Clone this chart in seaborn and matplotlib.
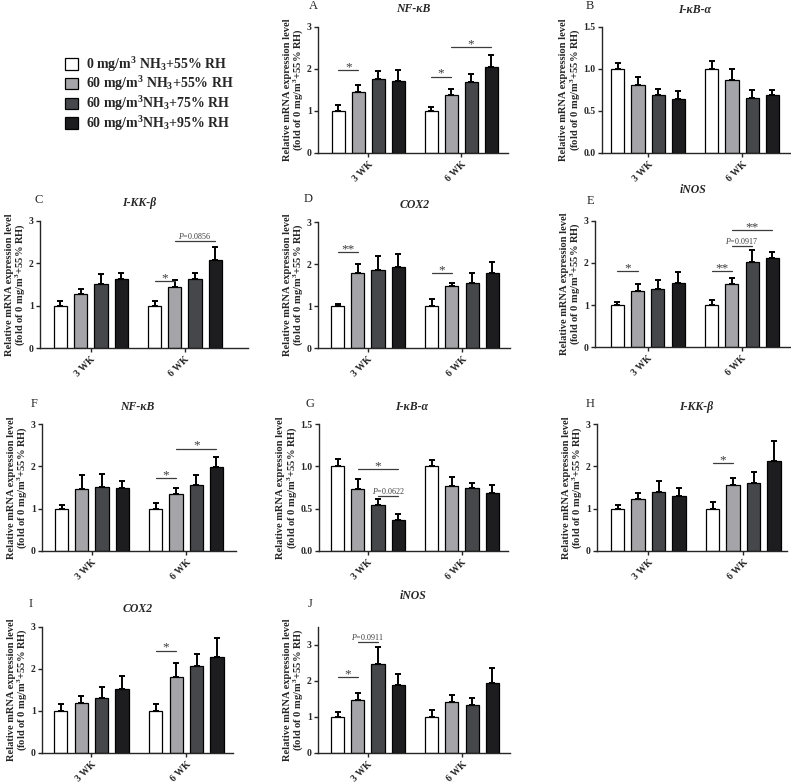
import numpy as np
import pandas as pd
import matplotlib
matplotlib.use("Agg")
import matplotlib.pyplot as plt
import seaborn as sns
from matplotlib.patches import Patch

# ---------------- data ----------------
weeks = ["3 WK", "6 WK"]
groups = ["0 mg/m$^3$ NH$_3$+55% RH", "60 mg/m$^3$ NH$_3$+55% RH",
          "60 mg/m$^3$NH$_3$+75% RH", "60 mg/m$^3$NH$_3$+95% RH"]
colors = ["#ffffff", "#a5a5a9", "#46474b", "#1d1d1f"]

panel_letters = ["A", "B", "C", "D", "E", "F", "G", "H", "I", "J"]
panel_genes = ["NF-κB", "I-κB-α", "I-KK-β", "COX2", "iNOS",
               "NF-κB", "I-κB-α", "I-KK-β", "COX2", "iNOS"]

# means: [3 WK x4 groups, 6 WK x4 groups]
mean_A = [1.00, 1.46, 1.76, 1.71, 1.00, 1.37, 1.68, 2.05]
err_A = [0.14, 0.17, 0.20, 0.26, 0.10, 0.15, 0.20, 0.29]
mean_B = [1.00, 0.81, 0.69, 0.64, 1.00, 0.87, 0.66, 0.69]
err_B = [0.07, 0.10, 0.07, 0.10, 0.10, 0.13, 0.09, 0.06]
mean_C = [1.00, 1.27, 1.52, 1.62, 1.00, 1.44, 1.62, 2.07]
err_C = [0.10, 0.13, 0.23, 0.16, 0.12, 0.17, 0.16, 0.32]
mean_D = [1.00, 1.78, 1.86, 1.94, 1.00, 1.47, 1.55, 1.78]
err_D = [0.05, 0.22, 0.34, 0.31, 0.16, 0.07, 0.23, 0.27]
mean_E = [1.00, 1.34, 1.38, 1.52, 1.00, 1.51, 2.03, 2.11]
err_E = [0.07, 0.16, 0.21, 0.26, 0.11, 0.14, 0.27, 0.16]
mean_F = [1.00, 1.47, 1.51, 1.50, 1.00, 1.35, 1.57, 1.98]
err_F = [0.09, 0.32, 0.30, 0.16, 0.13, 0.13, 0.22, 0.23]
mean_G = [1.00, 0.73, 0.54, 0.37, 1.00, 0.77, 0.74, 0.69]
err_G = [0.09, 0.125, 0.07, 0.07, 0.08, 0.10, 0.06, 0.09]
mean_H = [1.00, 1.24, 1.40, 1.30, 1.00, 1.56, 1.60, 2.13]
err_H = [0.09, 0.14, 0.25, 0.18, 0.16, 0.17, 0.27, 0.47]
mean_I = [1.00, 1.20, 1.30, 1.52, 1.00, 1.82, 2.07, 2.29]
err_I = [0.17, 0.16, 0.28, 0.32, 0.16, 0.32, 0.28, 0.45]
mean_J = [1.00, 1.46, 2.47, 1.89, 1.00, 1.41, 1.34, 1.94]
err_J = [0.14, 0.21, 0.47, 0.30, 0.19, 0.21, 0.20, 0.41]

means = [mean_A, mean_B, mean_C, mean_D, mean_E, mean_F, mean_G, mean_H, mean_I, mean_J]
errs = [err_A, err_B, err_C, err_D, err_E, err_F, err_G, err_H, err_I, err_J]

# significance: (week index, group a, group b, y, label)
sig_A = [(0, 0, 1, 1.97, "*"), (1, 0, 1, 1.82, "*"), (1, 1, 3, 2.53, "*")]
sig_B = []
sig_C = [(1, 0, 1, 1.58, "*"), (1, 1, 3, 2.52, "$\\mathit{P}$=0.0856")]
sig_D = [(0, 0, 1, 2.29, "**"), (1, 0, 1, 1.78, "*")]
sig_E = [(0, 0, 1, 1.80, "*"), (1, 0, 1, 1.81, "**"), (1, 1, 2, 2.41, "$\\mathit{P}$=0.0917"),
         (1, 1, 3, 2.78, "**")]
sig_F = [(1, 0, 1, 1.72, "*"), (1, 1, 3, 2.42, "*")]
sig_G = [(0, 1, 3, 0.97, "*"), (0, 2, 3, 0.65, "$\\mathit{P}$=0.0622")]
sig_H = [(1, 0, 1, 2.07, "*")]
sig_I = [(1, 0, 1, 2.44, "*")]
sig_J = [(0, 0, 1, 2.12, "*"), (0, 1, 2, 3.09, "$\\mathit{P}$=0.0911")]
sigs = [sig_A, sig_B, sig_C, sig_D, sig_E, sig_F, sig_G, sig_H, sig_I, sig_J]

yticks_3 = [0, 1, 2, 3]
ytick_labels_3 = ["0", "1", "2", "3"]
yticks_15 = [0.0, 0.5, 1.0, 1.5]
ytick_labels_15 = ["0.0", "0.5", "1.0", "1.5"]

ylabel = "Relative mRNA expression level\n(fold of 0 mg/m$^3$+55% RH)"

# ---------------- layout (pixels) ----------------
W, H = 791, 783
layout = [
    ((318, 27, 508, 153), (-0.54, 1.505), (0, 3), "3"),
    ((602, 27, 790, 153), (-0.49, 1.51), (0, 1.5), "15"),
    ((40, 221, 248, 348), (-0.54, 1.67), (0, 3), "3"),
    ((318, 222, 510, 348), (-0.53, 1.51), (0, 3), "3"),
    ((595, 221, 790, 347), (-0.56, 1.51), (0, 3), "3"),
    ((42, 424, 236, 551), (-0.53, 1.53), (0, 3), "3"),
    ((319, 424, 508, 551), (-0.52, 1.49), (0, 1.5), "15"),
    ((597, 424, 787, 551), (-0.54, 1.46), (0, 3), "3"),
    ((42, 627, 233, 753), (-0.52, 1.49), (0, 3), "3"),
    ((318, 627, 510, 753), (-0.53, 1.51), (0, 3.5), "3"),
]
letter_pos = [(313, 6), (590, 6), (39, 200), (308, 199), (590, 201),
              (34, 404), (310, 404), (590, 404), (31, 604), (310, 604)]
title_pos = [(413, 9), (695, 10), (139, 203), (415, 205), (693, 190),
             (137, 407), (412, 407), (696, 407), (138, 609), (413, 596)]

sns.set_style("ticks")
plt.rcParams["font.family"] = ["Liberation Serif", "DejaVu Serif"]
plt.rcParams["mathtext.fontset"] = "custom"
plt.rcParams["mathtext.default"] = "regular"
plt.rcParams["mathtext.rm"] = "Liberation Serif"
plt.rcParams["mathtext.it"] = "Liberation Serif:italic"
plt.rcParams["axes.linewidth"] = 1.0

fig = plt.figure(figsize=(W / 100, H / 100), dpi=100)

def fx(x):
    return x / W

def fy(y):
    return 1 - y / H

for i in range(10):
    (l, t, r, b), xlim, ylim, sc = layout[i]
    ax = fig.add_axes([fx(l), fy(b), (r - l) / W, (b - t) / H])
    df = pd.DataFrame({
        "week": [weeks[k // 4] for k in range(8)],
        "group": [groups[k % 4] for k in range(8)],
        "value": means[i],
    })
    sns.barplot(data=df, x="week", y="value", hue="group", order=weeks,
                hue_order=groups, palette=colors, saturation=1, width=0.86,
                gap=0.35, edgecolor="black", linewidth=0.9, errorbar=None,
                legend=False, ax=ax, zorder=2)
    bars = sorted([p for p in ax.patches], key=lambda p: p.get_x())
    xs = np.array([p.get_x() + p.get_width() / 2 for p in bars])
    hs = np.array([p.get_height() for p in bars])
    e = np.array(errs[i])
    ax.errorbar(xs, hs, yerr=[np.zeros_like(e), e], fmt="none", ecolor="black",
                elinewidth=1.4, capsize=2.2, capthick=1.4, zorder=3)
    for (w, a, bb, y, lab) in sigs[i]:
        x1 = xs[w * 4 + a]
        x2 = xs[w * 4 + bb]
        ax.plot([x1, x2], [y, y], color="#3c3c3c", lw=0.9, zorder=4, clip_on=False)
        if "P" in lab:
            ax.text((x1 + x2) / 2, y, lab, ha="center", va="bottom", fontsize=5.8,
                    color="#3c3c3c", zorder=4)
        else:
            ax.text((x1 + x2) / 2, y - 0.025 * (ylim[1] - ylim[0]), lab, ha="center",
                    va="bottom", fontsize=9.5, color="#3c3c3c", zorder=4)
    ax.set_xlim(*xlim)
    ax.set_ylim(*ylim)
    if sc == "3":
        ax.set_yticks(yticks_3)
        ax.set_yticklabels(ytick_labels_3)
    else:
        ax.set_yticks(yticks_15)
        ax.set_yticklabels(ytick_labels_15)
    ax.set_xticks([0, 1])
    ax.set_xticklabels(weeks, rotation=45, ha="right", rotation_mode="anchor")
    ax.tick_params(axis="both", length=3, width=1.0, labelsize=7, pad=1.5)
    for lbl in ax.get_xticklabels() + ax.get_yticklabels():
        lbl.set_fontweight("bold")
    ax.set_xlabel("")
    ax.set_ylabel(ylabel, fontsize=7.6, fontweight="bold", labelpad=1, linespacing=1.0)
    sns.despine(ax=ax)
    fig.text(fx(letter_pos[i][0]), fy(letter_pos[i][1]), panel_letters[i],
             ha="center", va="center", fontsize=9)
    fig.text(fx(title_pos[i][0]), fy(title_pos[i][1]), panel_genes[i],
             ha="center", va="center", fontsize=8.5, fontweight="bold", style="italic")

handles = [Patch(facecolor=c, edgecolor="black", linewidth=0.9) for c in colors]
fig.legend(handles, groups, loc="upper left", bbox_to_anchor=(fx(65), fy(55)),
           frameon=False, prop={"weight": "bold", "size": 10},
           handlelength=0.9, handleheight=0.9, handletextpad=0.6, labelspacing=0.05,
           borderaxespad=0, borderpad=0)

fig.savefig("out.png", dpi=100)
